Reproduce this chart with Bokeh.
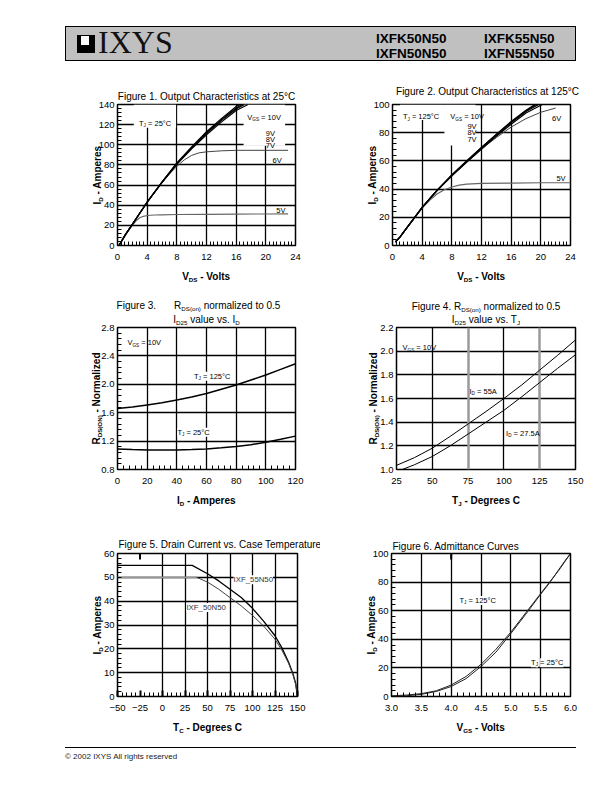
import numpy as np
from bokeh.plotting import figure
from bokeh.models import (Range1d, FixedTicker, Label, BoxAnnotation, Grid, Div,
                          NumeralTickFormatter)
from bokeh.core.properties import value
from bokeh.layouts import column, row
from bokeh.embed import file_html
from bokeh.resources import INLINE

# ---------------- data ----------------
# Fig 1: output characteristics at 25 C
f1_vds_10 = [0.2, 1, 2, 3, 4, 6, 8, 10, 12, 14, 16, 16.5]
f1_id_10 = [0, 10, 21, 32, 43, 63, 82, 98, 113, 126, 138, 140]
f1_vds_9 = [0.2, 1, 2, 3, 4, 6, 8, 10, 12, 14, 16, 16.8]
f1_id_9 = [0, 10, 21, 32, 43, 63, 81.5, 97.5, 112, 125, 136.5, 140]
f1_vds_8 = [0.2, 1, 2, 3, 4, 6, 8, 10, 12, 14, 16, 17.1]
f1_id_8 = [0, 10, 21, 32, 43, 63, 81, 97, 111.5, 124, 135.5, 140]
f1_vds_7 = [0.2, 1, 2, 3, 4, 6, 8, 10, 12, 14, 16, 17.6]
f1_id_7 = [0, 10, 21, 32, 43, 62.5, 80.5, 96, 110, 122.5, 134, 140]
f1_vds_6 = [0.2, 1, 2, 3, 4, 5, 6, 7, 8, 9, 10, 11, 12, 14, 16, 20, 23]
f1_id_6 = [0, 10, 21, 32, 42.5, 53, 62.5, 71, 78.5, 85, 89.5, 92, 93, 94, 94.5, 94.5, 94.5]
f1_vds_5 = [0.2, 1, 1.5, 2, 2.5, 3, 3.5, 4, 5, 6, 8, 12, 16, 20, 23]
f1_id_5 = [0, 9.5, 15, 20, 24.5, 27.5, 29, 29.8, 30.3, 30.5, 30.8, 31, 31.2, 31.3, 31.4]

# Fig 2: output characteristics at 125 C
f2_vds_10 = [0.4, 1, 2, 3, 4, 5, 6, 8, 10, 12, 14, 16, 18, 19.2]
f2_id_10 = [2.5, 6, 13, 20, 27, 33, 39, 50, 60, 69.5, 79, 88, 96, 100]
f2_vds_9 = [0.4, 1, 2, 3, 4, 5, 6, 8, 10, 12, 14, 16, 18, 19.4]
f2_id_9 = [2.5, 6, 13, 20, 27, 33, 39, 50, 60, 69.5, 78.5, 87.5, 95.5, 100]
f2_vds_8 = [0.4, 1, 2, 3, 4, 5, 6, 8, 10, 12, 14, 16, 18, 19.7]
f2_id_8 = [2.5, 6, 13, 20, 27, 33, 39, 49.5, 59.5, 69, 78, 87, 95, 100]
f2_vds_7 = [0.4, 1, 2, 3, 4, 5, 6, 8, 10, 12, 14, 16, 18, 20.2]
f2_id_7 = [2.5, 6, 13, 20, 27, 33, 39, 49.5, 59, 68.5, 77.5, 86, 94, 100]
f2_vds_6 = [0.4, 1, 2, 3, 4, 5, 6, 8, 10, 12, 13, 14, 16, 18, 20, 22]
f2_id_6 = [2.5, 6, 13, 20, 27, 33, 39, 49.5, 59, 68, 72.5, 76.5, 84, 90, 94.5, 97.5]
f2_vds_5 = [0.4, 1, 2, 3, 4, 5, 6, 7, 8, 9, 10, 12, 16, 20, 24]
f2_id_5 = [2.5, 6, 13, 20, 26.5, 32, 36.5, 39.5, 41.5, 42.8, 43.5, 44, 44.3, 44.5, 44.5]

# Fig 3: RDS(on) normalized vs ID
f3_id = [0, 10, 20, 30, 40, 50, 60, 70, 80, 90, 100, 110, 120]
f3_r125 = [1.66, 1.68, 1.71, 1.74, 1.78, 1.82, 1.87, 1.93, 1.99, 2.06, 2.13, 2.21, 2.29]
f3_r25 = [1.09, 1.08, 1.075, 1.073, 1.075, 1.08, 1.09, 1.105, 1.125, 1.15, 1.185, 1.225, 1.27]

# Fig 4: RDS(on) normalized vs TJ
f4_tj_55 = [25, 37.5, 50, 62.5, 75, 87.5, 100, 112.5, 125, 137.5, 150]
f4_r_55 = [1.035, 1.10, 1.18, 1.28, 1.385, 1.49, 1.60, 1.715, 1.84, 1.965, 2.095]
f4_tj_27 = [29, 37.5, 50, 62.5, 75, 87.5, 100, 112.5, 125, 137.5, 150]
f4_r_27 = [1.0, 1.04, 1.11, 1.20, 1.30, 1.40, 1.50, 1.615, 1.735, 1.855, 1.97]

# Fig 5: drain current vs case temperature
f5_tc_55 = [-50, 33, 50, 62.5, 75, 87.5, 100, 112.5, 125, 132.5, 140, 145, 148, 150]
f5_id_55 = [55, 55, 51.5, 48.5, 45, 41.5, 37, 31.5, 25.5, 20.5, 14.5, 9.5, 5.5, 0]
f5_tc_50 = [-50, 38, 50, 62.5, 75, 87.5, 100, 112.5, 125, 132.5, 140, 145, 148, 150]
f5_id_50 = [50, 50, 48, 45, 41.5, 38, 34, 29.5, 24, 19.5, 14, 9, 5, 0]

# Fig 6: admittance curves
f6_vgs = [3.0, 3.25, 3.5, 3.75, 4.0, 4.25, 4.5, 4.75, 5.0, 5.25, 5.5, 5.65, 5.8, 5.9, 6.0]
f6_id_125 = [0.5, 1, 2, 4, 8, 14, 22.5, 33, 45, 58.5, 72, 80, 88, 94, 100]
f6_id_25 = [0, 0.5, 1.5, 3.5, 7, 12.5, 21, 31, 44, 57.5, 71.5, 79.5, 88.5, 94.5, 100]

# ticks
f1_xticks = [0, 4, 8, 12, 16, 20, 24]
f1_yticks = [0, 20, 40, 60, 80, 100, 120, 140]
f2_yticks = [0, 20, 40, 60, 80, 100]
f3_xticks = [0, 20, 40, 60, 80, 100, 120]
f3_yticks = [0.8, 1.2, 1.6, 2.0, 2.4, 2.8]
f4_xticks = [25, 50, 75, 100, 125, 150]
f4_yticks = [1.0, 1.2, 1.4, 1.6, 1.8, 2.0, 2.2]
f5_xticks = [-50, -25, 0, 25, 50, 75, 100, 125, 150]
f5_yticks = [0, 10, 20, 30, 40, 50, 60]
f6_xticks = [3.0, 3.5, 4.0, 4.5, 5.0, 5.5, 6.0]
f6_yticks = [0, 20, 40, 60, 80, 100]

# ---------------- text helpers ----------------
FONT = "Liberation Sans"
REG = {' ': 278, '(': 333, ')': 333, '-': 333, '.': 278, '=': 584, '_': 556, '°': 400, '©': 737}
BOLD = dict(REG)
for d in "0123456789":
    REG[d] = 556
    BOLD[d] = 556
_U = "ABCDEFGHIJKLMNOPQRSTUVWXYZ"
_L = "abcdefghijklmnopqrstuvwxyz"
_ru = [667, 667, 722, 722, 667, 611, 778, 722, 278, 500, 667, 556, 833, 722, 778, 667, 778, 722, 667, 611, 722, 667, 944, 667, 667, 611]
_rl = [556, 556, 500, 556, 556, 278, 556, 556, 222, 222, 500, 222, 833, 556, 556, 556, 556, 333, 500, 278, 556, 500, 722, 500, 500, 500]
_bu = [722, 722, 722, 722, 667, 611, 778, 722, 278, 556, 722, 611, 833, 722, 778, 667, 778, 722, 667, 611, 722, 667, 944, 667, 667, 611]
_bl = [556, 611, 556, 611, 556, 333, 611, 611, 278, 278, 556, 278, 889, 611, 611, 611, 611, 389, 556, 333, 611, 556, 778, 556, 556, 500]
REG.update(dict(zip(_U, _ru)))
REG.update(dict(zip(_L, _rl)))
BOLD.update(dict(zip(_U, _bu)))
BOLD.update(dict(zip(_L, _bl)))


def tw(s, size, bold=False):
    t = BOLD if bold else REG
    return sum(t.get(c, 556) for c in s) * size / 1000.0


def rich(p, x, y, parts, size, bold=False, align="center", angle=0.0,
         xo=0.0, yo=0.0, bg=None, color="black", outside=False):
    """parts: list of (text, is_subscript[, extra_gap_px]); xo/yo in px (yo up).
    For rotated text (angle=pi/2) xo is the baseline position."""
    sub = size * 0.62
    ws = []
    for pt in parts:
        t, s = pt[0], pt[1]
        g = pt[2] if len(pt) > 2 else 0.0
        ws.append(tw(t, sub if s else size, bold) + g)
    total = sum(ws)
    pos = {"left": 0.0, "center": -total / 2.0, "right": -total}[align]
    base = size * 0.34
    for pt, w in zip(parts, ws):
        t, s = pt[0], pt[1]
        fs = sub if s else size
        lead = len(t) - len(t.lstrip(" "))
        shift = tw(" " * lead, fs, bold)
        txt = t.strip(" ")
        drop = size * 0.30 if s else 0.0
        if angle == 0:
            dx, dy = xo + pos + shift, yo - base - drop
        else:
            dx, dy = xo + drop, yo + pos + shift
        style = "bold" if bold else "normal"
        if outside:
            p.text(x=[x], y=[y], text=[txt], x_offset=dx, y_offset=-dy, angle=angle,
                   text_font=value(FONT), text_font_size=value(f"{fs:.2f}px"),
                   text_font_style=style, text_color=color, text_align="left",
                   text_baseline="alphabetic", level="overlay")
        else:
            lab = Label(x=x, y=y, x_offset=dx, y_offset=dy, text=txt, angle=angle,
                        text_font=FONT, text_font_size=f"{fs:.2f}px",
                        text_font_style=style, text_color=color, text_align="left",
                        text_baseline="alphabetic")
            if bg:
                lab.background_fill_color = bg
            p.add_layout(lab)
        pos += w


def mticks(a, b, step):
    return [round(v, 4) for v in np.arange(a, b + step / 2, step)]


def make_fig(w, h, xr, yr, xt, yt, xminor, yminor, left, right, top, bottom, fmt=None):
    p = figure(width=w, height=h, x_range=Range1d(*xr), y_range=Range1d(*yr),
               output_backend="svg", toolbar_location=None,
               min_border_left=left, min_border_right=right,
               min_border_top=top, min_border_bottom=bottom)
    p.outline_line_color = "black"
    p.outline_line_width = 1.5
    p.background_fill_color = "white"
    p.border_fill_color = "white"
    p.xaxis.ticker = FixedTicker(ticks=xt, minor_ticks=xminor)
    p.yaxis.ticker = FixedTicker(ticks=yt, minor_ticks=yminor)
    for ax in (p.xaxis[0], p.yaxis[0]):
        ax.axis_line_color = None
        ax.major_tick_out = 0
        ax.major_tick_in = 0
        ax.minor_tick_out = 0
        ax.minor_tick_in = 4
        ax.minor_tick_line_color = "black"
        ax.minor_tick_line_width = 1
        ax.major_label_text_font = FONT
        ax.major_label_text_font_size = "9.5px"
        ax.major_label_text_color = "black"
    p.xaxis.major_label_standoff = 8
    p.yaxis.major_label_standoff = 3
    if fmt:
        if fmt[0]:
            p.xaxis.formatter = NumeralTickFormatter(format=fmt[0])
        if fmt[1]:
            p.yaxis.formatter = NumeralTickFormatter(format=fmt[1])
    p.grid.grid_line_color = "black"
    p.grid.grid_line_width = 1.3
    return p


def axis_titles(p, xr, yr, xparts, yparts, ybase=-20, yo_x=-28):
    rich(p, (xr[0] + xr[1]) / 2, yr[0], xparts, 10, bold=True, yo=yo_x, outside=True)
    rich(p, xr[0], (yr[0] + yr[1]) / 2, yparts, 10, bold=True, angle=np.pi / 2,
         xo=ybase, outside=True)


def white_box(p, l, r, b, t):
    p.add_layout(BoxAnnotation(left=l, right=r, bottom=b, top=t, fill_color="white",
                               fill_alpha=1, line_alpha=0, level="underlay"))


def mark(p, l, r, b, t):
    p.add_layout(BoxAnnotation(left=l, right=r, bottom=b, top=t, fill_color="black",
                               fill_alpha=1, line_alpha=0))


ID_T = [("I", 0), ("D", 1), (" - Amperes", 0)]
VDS_T = [("V", 0), ("DS", 1), (" - Volts", 0)]
RDS_T = [("R", 0), ("DS(ON)", 1), (" - Normalized", 0)]
LS = 7.5  # in-plot label size
PAD = 8   # page margin

# ---------------- Figure 1 ----------------
xr, yr = (0, 24), (0, 140)
p1 = make_fig(298 + PAD, 205, xr, yr, f1_xticks, f1_yticks, mticks(0, 24, 0.5), mticks(0, 140, 4),
              109 + PAD, 11, 19, 45)
white_box(p1, 2.2, 7.9, 117, 140)
white_box(p1, 17.0, 22.6, 99, 140)
p1.line(f1_vds_5, f1_id_5, line_color="#666666", line_width=1.2)
p1.line(f1_vds_6, f1_id_6, line_color="#444444", line_width=1)
for vx, iy in ((f1_vds_7, f1_id_7), (f1_vds_8, f1_id_8), (f1_vds_9, f1_id_9), (f1_vds_10, f1_id_10)):
    p1.line(vx, iy, line_color="black", line_width=1.2)
rich(p1, 12, 140, [("Figure 1. Output Characteristics at 25°C", 0)], 10, yo=11, outside=True)
axis_titles(p1, xr, yr, VDS_T, ID_T, ybase=-20)
rich(p1, 2.9, 124, [("T", 0), ("J", 1), (" = 25°C", 0)], LS, align="left")
rich(p1, 17.5, 129.5, [("V", 0), ("GS", 1), (" = 10V", 0)], LS, align="left")
rich(p1, 20.0, 114, [("9V", 0)], LS, align="left")
rich(p1, 20.0, 108, [("8V", 0)], LS, align="left")
rich(p1, 20.0, 102, [("7V", 0)], LS, align="left")
rich(p1, 20.9, 87, [("6V", 0)], LS, align="left")
rich(p1, 21.4, 37, [("5V", 0)], LS, align="left")

# ---------------- Figure 2 ----------------
xr, yr = (0, 24), (0, 100)
p2 = make_fig(298, 205, xr, yr, f1_xticks, f2_yticks, mticks(0, 24, 0.5), mticks(0, 100, 4),
              86, 34, 19, 45)
white_box(p2, 1.0, 7.0, 89, 100)
white_box(p2, 7.0, 11.2, 71, 100)
p2.line(f2_vds_5, f2_id_5, line_color="#666666", line_width=1.2)
p2.line(f2_vds_6, f2_id_6, line_color="#444444", line_width=1)
for vx, iy in ((f2_vds_7, f2_id_7), (f2_vds_8, f2_id_8), (f2_vds_9, f2_id_9), (f2_vds_10, f2_id_10)):
    p2.line(vx, iy, line_color="black", line_width=1.2)
rich(p2, 12, 100, [("Figure 2. Output Characteristics at 125°C", 0)], 10, xo=6, yo=16, outside=True)
axis_titles(p2, xr, yr, VDS_T, ID_T, ybase=-20)
rich(p2, 1.4, 93, [("T", 0), ("J", 1), (" = 125°C", 0)], LS, align="left")
rich(p2, 7.8, 93, [("V", 0), ("GS", 1), (" = 10V", 0)], LS, align="left")
rich(p2, 10.1, 86.5, [("9V", 0)], LS, align="left")
rich(p2, 10.1, 82, [("8V", 0)], LS, align="left")
rich(p2, 10.1, 77, [("7V", 0)], LS, align="left")
rich(p2, 21.5, 92, [("6V", 0)], LS, align="left")
rich(p2, 22.1, 49.5, [("5V", 0)], LS, align="left")

# ---------------- Figure 3 ----------------
xr, yr = (0, 120), (0.8, 2.8)
p3 = make_fig(298 + PAD, 230, xr, yr, f3_xticks, f3_yticks, mticks(0, 120, 4), mticks(0.8, 2.8, 0.08),
              109 + PAD, 11, 37, 51, fmt=(None, "0.0"))
p3.line(f3_id, f3_r125, line_color="black", line_width=1.5)
p3.line(f3_id, f3_r25, line_color="black", line_width=1.5)
rich(p3, 60, 2.8, [("Figure 3.", 0, 18), ("R", 0), ("DS(on)", 1), (" normalized to 0.5", 0)], 10,
     xo=-8, yo=25, outside=True)
rich(p3, 60, 2.8, [("I", 0), ("D25", 1), (" value vs. I", 0), ("D", 1)], 10, yo=11, outside=True)
axis_titles(p3, xr, yr, ID_T, RDS_T, ybase=-21)
rich(p3, 6.7, 2.62, [("V", 0), ("GS", 1), (" = 10V", 0)], LS, align="left")
rich(p3, 51.6, 2.15, [("T", 0), ("J", 1), (" = 125°C", 0)], LS, align="left", bg="white")
rich(p3, 40.4, 1.36, [("T", 0), ("J", 1), (" = 25°C", 0)], LS, align="left", bg="white")

# ---------------- Figure 4 ----------------
xr, yr = (25, 150), (1.0, 2.2)
p4 = make_fig(298, 230, xr, yr, f4_xticks, f4_yticks, [], [], 90, 29, 37, 51, fmt=(None, "0.0"))
p4.xgrid.ticker = FixedTicker(ticks=[50, 100])
p4.add_layout(Grid(dimension=0, ticker=FixedTicker(ticks=[75, 125]),
                   grid_line_color="#9a9a9a", grid_line_width=2.5))
p4.line(f4_tj_55, f4_r_55, line_color="black", line_width=1)
p4.line(f4_tj_27, f4_r_27, line_color="black", line_width=1)
rich(p4, 87.5, 2.2, [("Figure 4. R", 0), ("DS(on)", 1), (" normalized to 0.5", 0)], 10,
     yo=24, outside=True)
rich(p4, 87.5, 2.2, [("I", 0), ("D25", 1), (" value vs. T", 0), ("J", 1)], 10, yo=11, outside=True)
axis_titles(p4, xr, yr, [("T", 0), ("J", 1), (" - Degrees C", 0)], RDS_T, ybase=-23)
rich(p4, 29.2, 2.05, [("V", 0), ("GS", 1), (" = 10V", 0)], LS, align="left")
rich(p4, 76, 1.68, [("I", 0), ("D", 1), (" = 55A", 0)], LS, align="left")
rich(p4, 101.5, 1.33, [("I", 0), ("D", 1), (" = 27.5A", 0)], LS, align="left")

# ---------------- Figure 5 ----------------
xr, yr = (-50, 150), (0, 60)
p5 = make_fig(298 + PAD + 14, 220, xr, yr, f5_xticks, f5_yticks, mticks(-50, 150, 5), mticks(0, 60, 2),
              109 + PAD, 23, 33, 44)
p5.xgrid.ticker = FixedTicker(ticks=[0, 25, 50, 75, 100, 125])
p5.xaxis.major_tick_in = 6
p5.xaxis.major_tick_line_width = 2
mark(p5, -26.1, -23.9, 57.5, 60)
p5.line(f5_tc_55, f5_id_55, line_color="black", line_width=1.3)
p5.line(f5_tc_50[:2], f5_id_50[:2], line_color="#999999", line_width=1.6)
p5.line(f5_tc_50[1:], f5_id_50[1:], line_color="#444444", line_width=1)
rich(p5, -50, 60, [("Figure 5. Drain Current vs. Case Temperature", 0)], 10, align="left",
     xo=1, yo=12, outside=True)
axis_titles(p5, xr, yr, [("T", 0), ("C", 1), (" - Degrees C", 0)], ID_T, ybase=-20)
rich(p5, 79, 50.1, [("IXF_55N50", 0)], 7.8, align="left", bg="white", color="#333333")
rich(p5, 26.6, 38.5, [("IXF_50N50", 0)], 7.8, align="left", bg="white", color="#333333")

# ---------------- Figure 6 ----------------
xr, yr = (3.0, 6.0), (0, 100)
p6 = make_fig(298 - 14, 220, xr, yr, f6_xticks, f6_yticks, mticks(3.0, 6.0, 0.1), mticks(0, 100, 4),
              71, 34, 33, 44, fmt=("0.0", None))
mark(p6, 3.983, 4.017, 95.8, 100)
p6.line(f6_vgs, f6_id_125, line_color="#222222", line_width=1)
p6.line(f6_vgs, f6_id_25, line_color="#222222", line_width=1)
rich(p6, 3.0, 100, [("Figure 6. Admittance Curves", 0)], 10, align="left", xo=1, yo=10, outside=True)
axis_titles(p6, xr, yr, [("V", 0), ("GS", 1), (" - Volts", 0)], ID_T, ybase=-20)
rich(p6, 4.14, 69, [("T", 0), ("J", 1), (" = 125°C", 0)], LS, align="left", bg="white")
rich(p6, 5.34, 25.4, [("T", 0), ("J", 1), (" = 25°C", 0)], LS, align="left", bg="white")

# ---------------- header / footer ----------------
header_html = """
<div style="position:relative;width:604px;height:85px;">
 <div style="position:absolute;left:65px;top:26px;width:511px;height:35px;background:#c0c0c0;border:1.5px solid #000;box-sizing:border-box;"></div>
 <div style="position:absolute;left:77px;top:35px;width:18px;height:18px;background:#000;"></div>
 <div style="position:absolute;left:81px;top:36px;width:8px;height:9px;background:#fff;"></div>
 <span style="position:absolute;left:98px;top:26px;font-family:'Liberation Serif';font-size:32px;line-height:32px;color:#111;white-space:nowrap;">IXYS</span>
 <span style="position:absolute;left:376px;top:31.5px;font-family:'Liberation Sans';font-weight:bold;font-size:13.5px;line-height:13.5px;white-space:nowrap;">IXFK50N50</span>
 <span style="position:absolute;left:376px;top:47px;font-family:'Liberation Sans';font-weight:bold;font-size:13.5px;line-height:13.5px;white-space:nowrap;">IXFN50N50</span>
 <span style="position:absolute;left:484px;top:31.5px;font-family:'Liberation Sans';font-weight:bold;font-size:13.5px;line-height:13.5px;white-space:nowrap;">IXFK55N50</span>
 <span style="position:absolute;left:484px;top:47px;font-family:'Liberation Sans';font-weight:bold;font-size:13.5px;line-height:13.5px;white-space:nowrap;">IXFN55N50</span>
</div>
"""
footer_html = """
<div style="position:relative;width:604px;height:30px;">
 <div style="position:absolute;left:65px;top:7px;width:511px;height:1.3px;background:#000;"></div>
 <span style="position:absolute;left:65px;top:13px;font-family:'Liberation Sans';font-size:8px;line-height:8px;color:#222;white-space:nowrap;">© 2002 IXYS All rights reserved</span>
</div>
"""
header = Div(text=header_html, width=604, height=85, margin=0)
footer = Div(text=footer_html, width=604, height=30, margin=0)

layout = column(header, row(p1, p2), row(p3, p4), row(p5, p6), footer)

open("out.html", "w").write(file_html(layout, INLINE))
